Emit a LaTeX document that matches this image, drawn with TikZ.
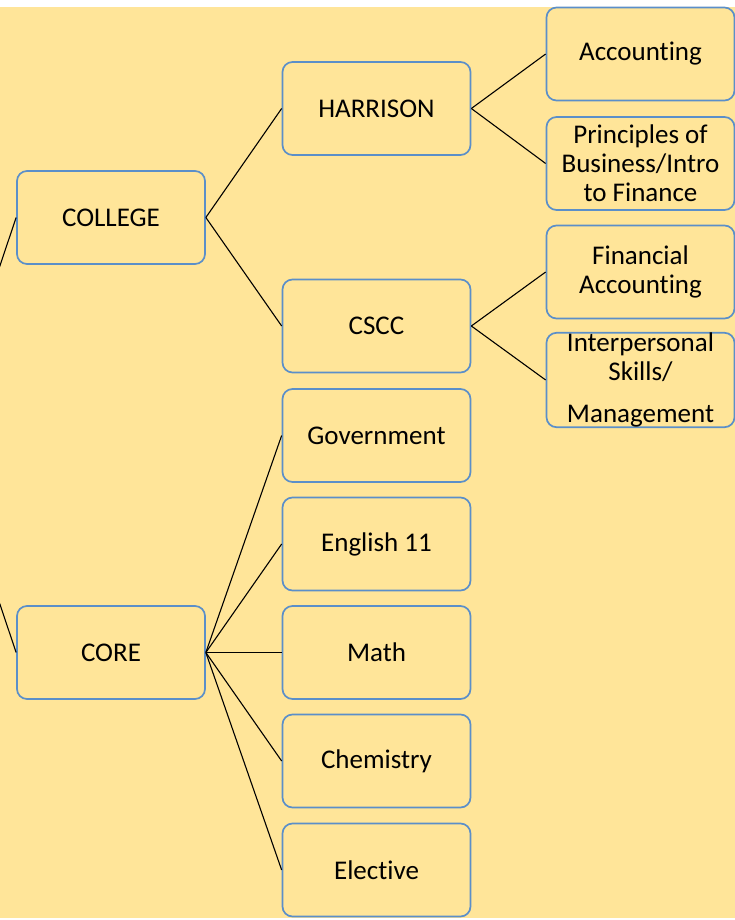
\documentclass[tikz,border=0pt]{standalone}
\usepackage{fontspec}
\setmainfont{Carlito}[Ligatures=NoCommon]
\definecolor{bgyellow}{HTML}{FFE599}
\definecolor{boxblue}{HTML}{5B8FC9}
\tikzset{
  box/.style={draw=boxblue, line width=1.7pt, rounded corners=10pt, fill=bgyellow,
    minimum width=188pt, minimum height=93pt, align=center, inner sep=0pt,
    font=\fontsize{27}{29}\selectfont, text=black},
  link/.style={draw=black, line width=1.1pt}
}
\begin{document}
\begin{tikzpicture}[x=1pt,y=-1pt]
\useasboundingbox (0,0) rectangle (735,920);
\fill[white] (0,0) rectangle (735,920);
\fill[bgyellow] (0,7) rectangle (735,918);
\begin{scope}
\clip (0,0) rectangle (735,920);
\coordinate (root) at (-57,435);
\node[box] (college) at (111,217.5) {COLLEGE};
\node[box] (core) at (111,652.5) {CORE};
\node[box] (harrison) at (376.5,108.5) {HARRISON};
\node[box] (cscc) at (376.5,326) {CSCC};
\node[box] (gov) at (376.5,435.5) {Government};
\node[box] (eng) at (376.5,544) {English 11};
\node[box] (math) at (376.5,652.5) {Math};
\node[box] (chem) at (376.5,761) {Chemistry};
\node[box] (elect) at (376.5,870) {Elective};
\node[box] (acct) at (640.5,54) {Accounting};
\node[box] (princ) at (640.5,163.5) {Principles of\\Business/Intro\\to Finance};
\node[box] (fin) at (640.5,272) {Financial\\Accounting};
\node[box] (inter) at (640.5,380) {Interpersonal\\Skills/\\[13pt]Management};
\draw[link] (root) -- (college.west);
\draw[link] (root) -- (core.west);
\draw[link] (college.east) -- (harrison.west);
\draw[link] (college.east) -- (cscc.west);
\draw[link] (harrison.east) -- (acct.west);
\draw[link] (harrison.east) -- (princ.west);
\draw[link] (cscc.east) -- (fin.west);
\draw[link] (cscc.east) -- (inter.west);
\foreach \t in {gov,eng,math,chem,elect}
  \draw[link] (core.east) -- (\t.west);
\end{scope}
\end{tikzpicture}
\end{document}
